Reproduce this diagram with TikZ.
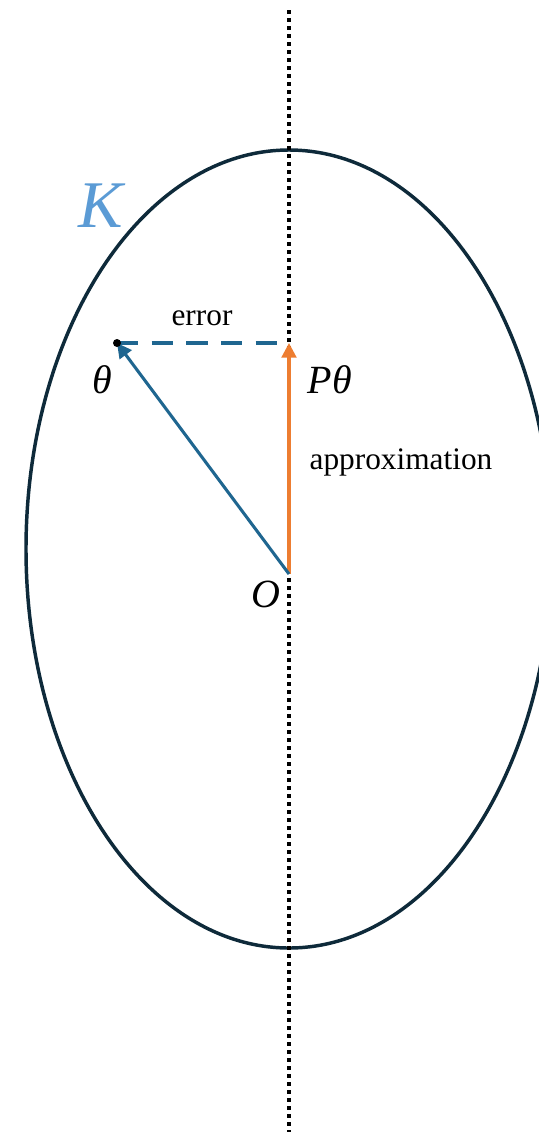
\documentclass[tikz,border=0pt]{standalone}
\usepackage{fontspec}
\setmainfont{Liberation Serif}
\usetikzlibrary{arrows.meta}
\definecolor{navy}{HTML}{0E2A3A}
\definecolor{teal}{HTML}{1F6690}
\definecolor{orng}{HTML}{ED7D31}
\definecolor{kblue}{HTML}{5B9BD5}
\tikzset{
  vec/.style={line width=2.3pt,-{Triangle[length=11pt,width=11pt]}},
  lbl/.style={inner sep=0pt,font=\fontsize{23.5}{26}\selectfont},
  mlbl/.style={inner sep=0pt,font=\fontsize{30}{34}\selectfont\itshape},
}
\begin{document}
\begin{tikzpicture}[x=0.75pt,y=-0.75pt]
\useasboundingbox (0,0) rectangle (539,1132);
\clip (0,0) rectangle (539,1132);
% ellipse K
\draw[navy,line width=2.6pt] (289,549) ellipse [x radius=263, y radius=399];
% vertical dotted line
\coordinate (top) at (289,10);
\coordinate (bot) at (289,1132);
\draw[black,line width=2.8pt,dash pattern=on 3pt off 3pt] (top) -- (bot);
% points
\coordinate (O) at (289,574);
\coordinate (th) at (117,343);
\coordinate (Pth) at (289,343);
% error dashed
\draw[teal,line width=2.3pt,dash pattern=on 16pt off 10pt] (th) -- (Pth);
% vectors
\draw[vec,orng] (O) -- (Pth);
\draw[vec,teal] (O) -- (th);
\fill[black] (th) circle (4);
% labels
\node[mlbl,kblue,font=\fontsize{50}{56}\selectfont\itshape] (K) at (101,206) {K};
\node[mlbl] (thl) at (102,380) {θ};
\node[mlbl] (Pthl) at (330,380) {Pθ};
\node[mlbl] (Ol) at (266,594) {O};
\node[lbl] (err) at (202,318) {error};
\node[lbl] (appr) at (401,462) {approximation};
\end{tikzpicture}
\end{document}
